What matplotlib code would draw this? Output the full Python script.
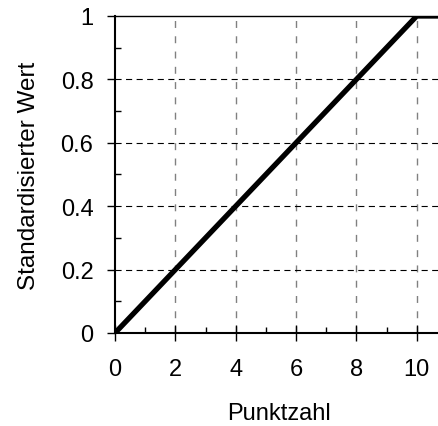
import matplotlib.pyplot as plt
from matplotlib.ticker import MultipleLocator

# Standardisierung: Punktzahl -> Wert
punkte = [0, 10, 11]
wert = [0, 1, 1]

x_ticks = [0, 2, 4, 6, 8, 10]
y_ticks = [0, 0.2, 0.4, 0.6, 0.8, 1]
y_labels = ['0', '0.2', '0.4', '0.6', '0.8', '1']

plt.rcParams['font.family'] = ['Liberation Sans', 'DejaVu Sans']

fig = plt.figure(figsize=(4.38, 4.27), dpi=100)
ax = fig.add_axes([115 / 438, 1 - 334 / 427, 1 - 115 / 438 + 0.01, (334 - 17) / 427])

ax.plot(punkte, wert, color='black', lw=3.8, solid_capstyle='butt', zorder=3)

ax.set_xlim(0, 10.85)
ax.set_ylim(0, 1)

# Gitter
for xv in x_ticks[1:]:
    ax.axvline(xv, color='#808080', lw=1, ls=(0, (5, 6)), zorder=1)
for yv in y_ticks[1:-1]:
    ax.axhline(yv, color='black', lw=0.8, ls=(0, (5.5, 4)), zorder=1)
ax.axhline(1, color='black', lw=1, zorder=2, clip_on=False)

for s in ['top', 'right']:
    ax.spines[s].set_visible(False)
ax.spines['left'].set_linewidth(1.5)
ax.spines['bottom'].set_linewidth(1.5)

ax.set_xticks(x_ticks)
ax.set_yticks(y_ticks)
ax.set_yticklabels(y_labels)
ax.xaxis.set_minor_locator(MultipleLocator(1))
ax.yaxis.set_minor_locator(MultipleLocator(0.1))

ax.tick_params(axis='x', which='major', direction='inout', length=12, width=1, pad=12, labelsize=17)
ax.tick_params(axis='x', which='minor', direction='in', length=4, width=1)
ax.tick_params(axis='y', which='major', direction='out', length=6, width=1, pad=9.5, labelsize=17)
ax.tick_params(axis='y', which='minor', direction='in', length=4, width=1)

ax.set_xlabel('Punktzahl', fontsize=17, labelpad=15.5)
ax.set_ylabel('Standardisierter Wert', fontsize=17.5, labelpad=15)

fig.savefig('out.png', dpi=100)
